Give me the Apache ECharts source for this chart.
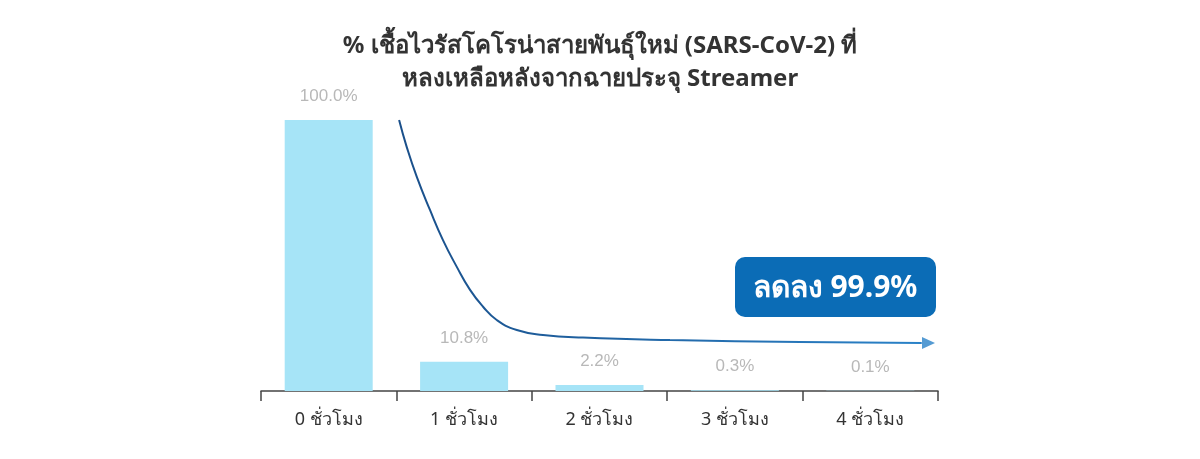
<!DOCTYPE html>
<html><head><meta charset="utf-8">
<script src="https://cdn.jsdelivr.net/npm/echarts@6/dist/echarts.min.js"></script>
<style>html,body{margin:0;padding:0;background:#fff}#c{width:1200px;height:459px}</style>
</head><body><div id="c"></div>
<script>
const categories = ['0 ชั่วโมง','1 ชั่วโมง','2 ชั่วโมง','3 ชั่วโมง','4 ชั่วโมง'];
const remaining = [100.0, 10.8, 2.2, 0.3, 0.1];
// decorative trend curve: [position along axis (category units), %]
const curveX = [1.02, 1.076, 1.15, 1.248, 1.344, 1.445, 1.544, 1.64, 1.741, 1.889, 2.083, 2.378, 3.021, 3.98, 4.88];
const curveY = [100, 90.1, 79.1, 66.8, 55.7, 45.9, 37.3, 31.1, 26.2, 22.5, 20.7, 19.7, 18.8, 18.1, 17.7];
const arrowTip = [4.93, 17.7];
const titleText = '% เชื้อไวรัสโคโรน่าสายพันธุ์ใหม่ (SARS-CoV-2) ที่\nหลงเหลือหลังจากฉายประจุ Streamer';
const badgeText = 'ลดลง 99.9%';

const chart = echarts.init(document.getElementById('c'));
chart.setOption({
  animation: false,
  title: {
    text: titleText, left: 'center', top: 25,
    textStyle: {fontSize: 24, fontWeight: 'bold', color: '#333', lineHeight: 33, fontFamily: 'Noto Sans, sans-serif'}
  },
  grid: {left: 261, right: 262, top: 120, bottom: 68},
  xAxis: [{
    type: 'category', data: categories,
    axisLine: {lineStyle: {color: '#444', width: 1.5}},
    axisTick: {show: true, length: 10, lineStyle: {color: '#444', width: 1.5}},
    axisLabel: {fontSize: 18, color: '#333', margin: 20, fontFamily: 'Noto Sans, sans-serif'}
  }, {
    type: 'value', min: 0, max: 5, show: false
  }],
  yAxis: {type: 'value', min: 0, max: 100, show: false},
  series: [{
    type: 'bar', data: remaining, barWidth: 88,
    itemStyle: {color: '#a6e4f7'},
    label: {show: true, position: 'top', distance: 15, color: '#b8b8b8', fontSize: 17,
      formatter: p => p.value.toFixed(1) + '%'}
  }, {
    type: 'line', xAxisIndex: 1, smooth: 0.5, symbol: 'none', clip: false,
    data: curveX.map((x, i) => [x, curveY[i]]),
    lineStyle: {width: 2, color: new echarts.graphic.LinearGradient(0, 0, 1, 0, [
      {offset: 0, color: '#1a4f8a'}, {offset: 1, color: '#2a82c8'}])}
  }, {
    type: 'scatter', xAxisIndex: 1, symbol: 'triangle', symbolSize: [12, 13], symbolRotate: -90,
    data: [arrowTip], itemStyle: {color: '#2a82c8'}, clip: false
  }],
  graphic: [{
    type: 'rect', left: 735, top: 257, shape: {width: 201, height: 60, r: 10},
    style: {fill: '#0b6cb6'}
  }, {
    type: 'text', x: 835, y: 288,
    style: {text: badgeText, fill: '#fff', font: 'bold 30px Noto Sans, sans-serif', align: 'center', verticalAlign: 'middle'}
  }]
});
</script></body></html>
